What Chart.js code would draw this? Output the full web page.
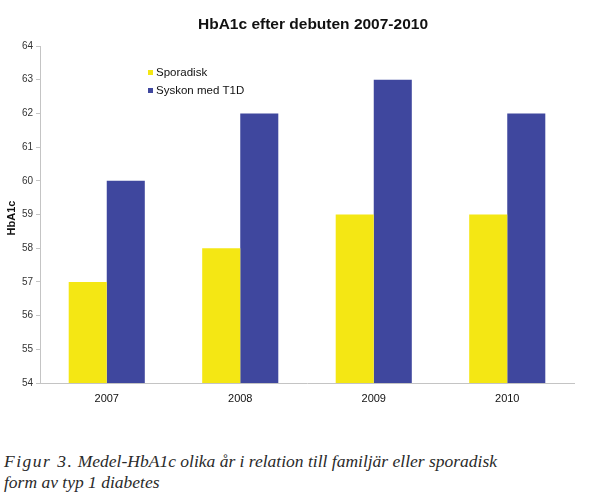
<!DOCTYPE html>
<html lang="sv">
<head>
<meta charset="UTF-8">
<title>HbA1c efter debuten 2007-2010</title>
<script src="https://cdn.jsdelivr.net/npm/chart.js"></script>
<style>
    body {
        margin: 0;
        background: #fff;
        width: 600px;
        height: 496px;
        overflow: hidden;
    }
    .chart-box {
        position: relative;
        width: 600px;
        height: 420px;
    }
    canvas {
        display: block;
        width: 600px;
        height: 420px;
    }
    .caption {
        position: absolute;
        left: 4px;
        top: 451px;
        font-family: 'Liberation Serif', 'DejaVu Serif', serif;
        font-style: italic;
        font-size: 17.5px;
        line-height: 21px;
        color: #2a2a2a;
        white-space: nowrap;
    }
    .caption .fig { letter-spacing: 1.5px; }
</style>
</head>
<body>
<div class="chart-box">
    <canvas id="hba1cChart" width="600" height="420"></canvas>
</div>
<div class="caption"><span class="fig">Figur 3.</span> Medel-HbA1c olika år i relation till familjär eller sporadisk<br>form av typ 1 diabetes</div>

<script>
    // data
    const years = ['2007', '2008', '2009', '2010'];
    const sporadisk = [57, 58, 59, 59];
    const syskon = [60, 62, 63, 62];
    const seriesNames = ['Sporadisk', 'Syskon med T1D'];
    const yMin = 54, yMax = 64;

    const yellow = '#f4e714';
    const blue = '#3f479e';

    // title, y axis title and inside legend drawn by hand
    const extras = {
        id: 'extras',
        afterDraw(chart) {
            const ctx = chart.ctx;
            ctx.save();
            ctx.fillStyle = '#111';
            ctx.font = 'bold 15.5px "Liberation Sans", Arial, sans-serif';
            ctx.textAlign = 'center';
            ctx.textBaseline = 'middle';
            ctx.fillText('HbA1c efter debuten 2007-2010', 313, 25);

            ctx.font = 'bold 11px "Liberation Sans", Arial, sans-serif';
            ctx.translate(12, 218);
            ctx.rotate(-Math.PI / 2);
            ctx.fillText('HbA1c', 0, 0);
            ctx.restore();

            ctx.save();
            ctx.font = '11.5px "Liberation Sans", Arial, sans-serif';
            ctx.textAlign = 'left';
            ctx.textBaseline = 'middle';
            chart.data.datasets.forEach((ds, i) => {
                const y = 73 + i * 18;
                ctx.fillStyle = ds.backgroundColor;
                ctx.fillRect(148, y - 3, 5, 5);
                ctx.fillStyle = '#111';
                ctx.fillText(ds.label, 156, y);
            });
            ctx.restore();
        }
    };

    const ctx = document.getElementById('hba1cChart').getContext('2d');
    const chart = new Chart(ctx, {
        type: 'bar',
        data: {
            labels: years,
            datasets: [
                { label: seriesNames[0], data: sporadisk, backgroundColor: yellow },
                { label: seriesNames[1], data: syskon, backgroundColor: blue }
            ]
        },
        options: {
            responsive: false,
            animation: false,
            devicePixelRatio: 1,
            layout: { padding: { left: 0, right: 26, top: 46, bottom: 7 } },
            datasets: {
                bar: { categoryPercentage: 0.57, barPercentage: 1.0 }
            },
            plugins: {
                legend: { display: false },
                title: { display: false },
                tooltip: { enabled: false }
            },
            scales: {
                x: {
                    grid: { display: false, drawTicks: false },
                    border: { color: '#c4c4c4', width: 1 },
                    ticks: {
                        color: '#111',
                        padding: 9,
                        font: { family: '"Liberation Sans", Arial, sans-serif', size: 11 }
                    },
                    afterFit(scale) { scale.height = 30; }
                },
                y: {
                    min: yMin,
                    max: yMax,
                    grid: { drawOnChartArea: false, drawTicks: true, tickLength: 4, color: '#c4c4c4' },
                    border: { color: '#c4c4c4', width: 1 },
                    ticks: {
                        stepSize: 1,
                        color: '#333',
                        padding: 3,
                        font: { family: '"Liberation Sans", Arial, sans-serif', size: 10 }
                    },
                    afterFit(scale) { scale.width = 40; }
                }
            }
        },
        plugins: [extras]
    });
</script>
</body>
</html>
